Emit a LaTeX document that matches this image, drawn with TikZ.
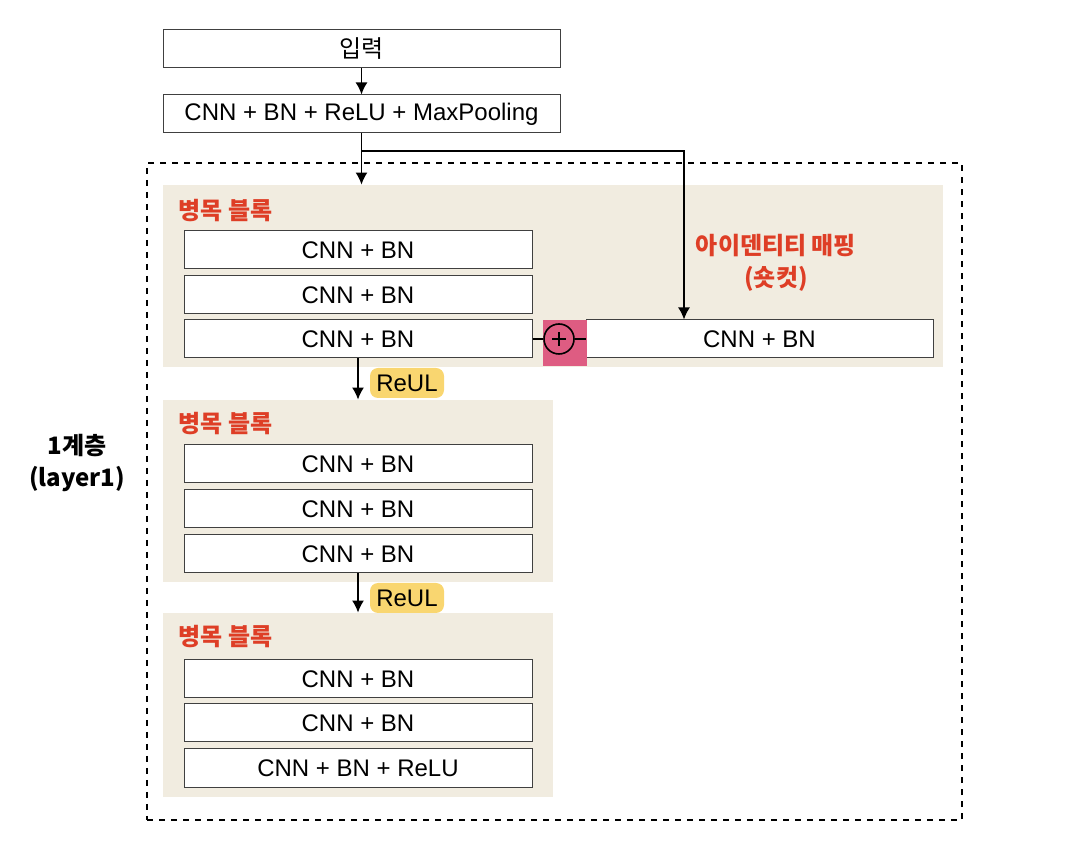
\documentclass[tikz,border=0pt]{standalone}
\usepackage{fontspec}
\setmainfont{Liberation Sans}
\newfontfamily\kr{Noto Sans CJK KR}
\usetikzlibrary{arrows.meta,positioning}
\definecolor{tan}{RGB}{241,236,224}
\definecolor{redtxt}{RGB}{222,62,38}
\definecolor{pinkbg}{RGB}{222,92,130}
\definecolor{yel}{RGB}{249,214,112}
\begin{document}
\begin{tikzpicture}[x=0.5pt,y=-0.5pt,
font=\fontsize{12}{14}\selectfont,
box/.style={draw=black!75,line width=.5pt,fill=white,minimum width=174pt,minimum height=19pt,inner sep=0pt},
blk/.style={fill=tan,inner sep=0pt},
ttl/.style={text=redtxt,font=\kr\bfseries\fontsize{12}{15}\selectfont,anchor=west,inner sep=0pt},
relu/.style={fill=yel,rounded corners=4pt,minimum width=37pt,minimum height=15pt,inner sep=0pt},
arr/.style={-{Latex[length=6pt,width=6pt]},line width=.8pt}]
\useasboundingbox (0,0) rectangle (1066,860);
% outer frame
\node[draw,dashed,line width=.9pt,minimum width=407.5pt,minimum height=328.5pt](layer) at (554.5,491.5){};
\node[font=\kr\bfseries\fontsize{12}{16}\selectfont,align=center](lname) at (77,463){1계층\\(layer1)};
% stem
\node[box,minimum width=198.5pt](inp) at (361.5,49){\kr 입력};
\node[box,minimum width=198.5pt](mp) at (361.5,114){CNN + BN + ReLU + MaxPooling};
% tan blocks
\node[blk,minimum width=390pt,minimum height=91pt](blk1) at (553,276){};
\node[blk,minimum width=195pt,minimum height=91pt](blk2) at (358,491){};
\node[blk,minimum width=195pt,minimum height=92pt](blk3) at (358,705){};
\node[ttl](t1) at (178,211){병목 블록};
\node[ttl](t2) at (178,424){병목 블록};
\node[ttl](t3) at (178,637){병목 블록};
% block 1
\node[box](b11) at (358,250){CNN + BN};
\node[box](b12) at (358,295){CNN + BN};
\node[box](b13) at (358,339){CNN + BN};
% block 2
\node[box](b21) at (358,464){CNN + BN};
\node[box](b22) at (358,509){CNN + BN};
\node[box](b23) at (358,554){CNN + BN};
% block 3
\node[box](b31) at (358,679){CNN + BN};
\node[box](b32) at (358,723){CNN + BN};
\node[box](b33) at (358,768){CNN + BN + ReLU};
% shortcut
\node[box,minimum width=173.5pt](sc) at (759.5,339){CNN + BN};
\node[fill=pinkbg,minimum width=22pt,minimum height=23pt,inner sep=0pt](addbg) at (564.5,343){};
\node[draw,circle,line width=.8pt,minimum size=15pt,inner sep=0pt](add) at (559,339){};
\draw[line width=.8pt]([yshift=-4.5pt]add.north)--([yshift=4.5pt]add.south)
  ([xshift=4.5pt]add.west)--([xshift=-4.5pt]add.east);
\node[text=redtxt,font=\kr\bfseries\fontsize{12}{16}\selectfont,align=center](sclbl) at (776,263){아이덴티티 매핑\\(숏컷)};
\node[relu](r1) at (407,383){ReUL};
\node[relu](r2) at (407,598){ReUL};
\coordinate(tap) at (361,151);
\coordinate(turn) at (684,151);
% connectors
\draw[arr](inp.south)--(mp.north);
\draw[arr](mp.south)--(mp.south |- blk1.north);
\draw[arr](tap)--(turn)--(turn |- sc.north);
\draw[line width=.8pt](b13.east)--(add.west);
\draw[line width=.8pt](add.east)--(sc.west);
\draw[arr](b13.south)--(b13.south |- blk2.north);
\draw[arr](b23.south)--(b23.south |- blk3.north);
\end{tikzpicture}
\end{document}
